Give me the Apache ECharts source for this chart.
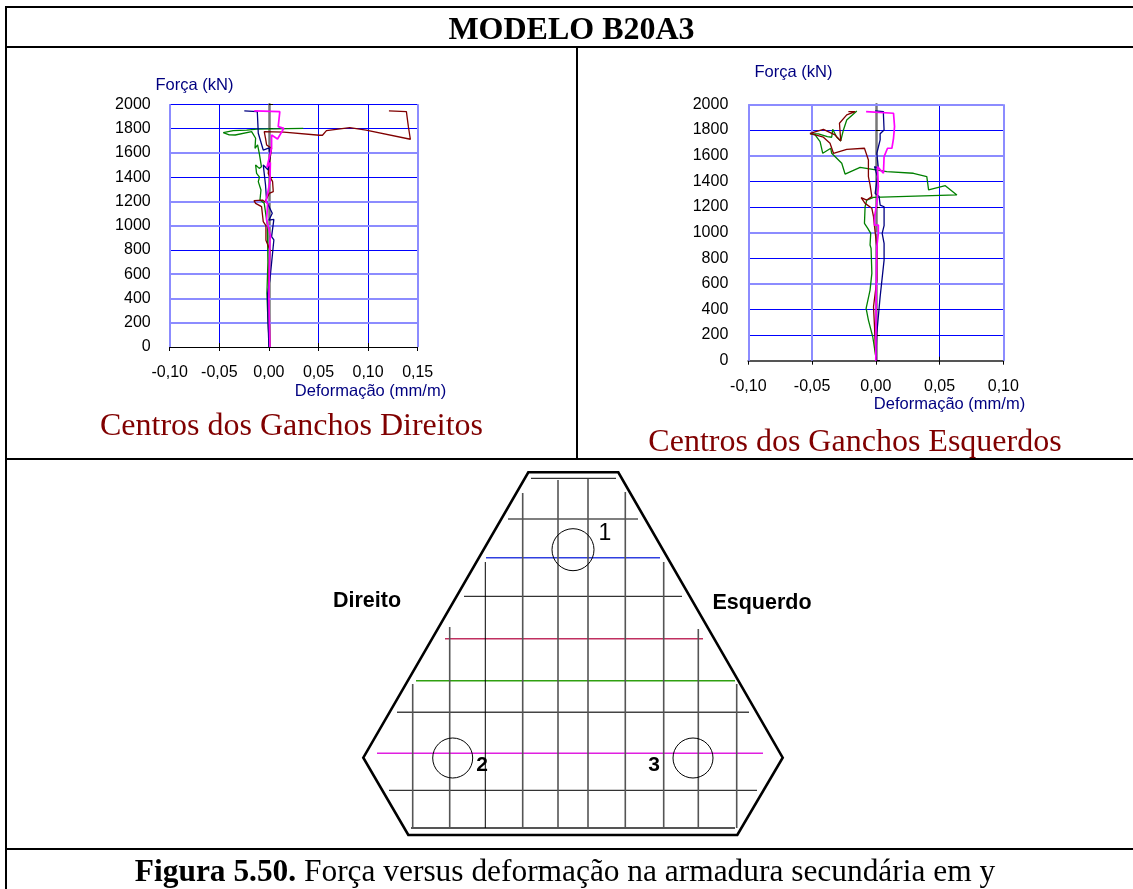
<!DOCTYPE html>
<html>
<head>
<meta charset="utf-8">
<title>MODELO B20A3</title>
<script src="https://cdn.jsdelivr.net/npm/echarts@6/dist/echarts.min.js"></script>
<style>
  html, body { margin: 0; padding: 0; background: #fff; }
  #chart { width: 1133px; height: 889px; }
</style>
</head>
<body>
<div id="chart"></div>
<script>
// Força x deformação: [deformação, força]
const direitoVerde = [[0.0005,0],[-0.001,222],[-0.002,442],[-0.001,700],[-0.0015,1000],[-0.0047,1184],[-0.009,1211],[-0.008,1294],[-0.0107,1363],[-0.0095,1400],[-0.0124,1431],[-0.0134,1500],[-0.0097,1472],[-0.0075,1485],[-0.0097,1596],[-0.0114,1665],[-0.014,1637],[-0.0134,1720],[-0.0174,1775],[-0.034,1747],[-0.04,1748],[-0.046,1766],[-0.036,1783],[-0.0225,1788],[-0.012,1796],[0.0346,1802]]
const direitoVermelho = [[0.001,0],[0.0005,200],[-0.0005,400],[0,600],[0.001,800],[-0.003,880],[-0.003,1000],[-0.0057,1033],[-0.0074,1157],[-0.0134,1184],[-0.015,1206],[-0.0064,1211],[-0.004,1195],[0.0003,1266],[0.0044,1280],[0.0037,1363],[-0.0007,1431],[0.001,1541],[0.0027,1637],[-0.0023,1665],[-0.0034,1720],[-0.0047,1775],[0.015,1770],[0.051,1745],[0.054,1745],[0.058,1783],[0.0815,1808],[0.098,1788],[0.1426,1712],[0.1406,1816],[0.1386,1940],[0.121,1945]]
const direitoAzul = [[0,0],[-0.001,250],[-0.0013,442],[0.001,552],[0.005,882],[0.0027,910],[0.005,1052],[0.0,1045],[0.0034,1102],[-0.0023,1198],[-0.0034,1335],[-0.0057,1500],[-0.0007,1459],[0.001,1569],[0.0003,1640],[-0.0057,1623],[-0.0107,1761],[-0.0117,1940],[-0.0248,1945]]
const direitoMagenta = [[0.001,0],[0,400],[0.001,880],[0.0017,910],[-0.0023,1047],[-0.0013,1180],[-0.003,1198],[0.001,1360],[0.0015,1520],[-0.002,1480],[0.0027,1640],[0.0027,1747],[0.0044,1747],[0.0087,1714],[0.015,1802],[0.0094,1816],[0.011,1940],[-0.0148,1945]]

const esquerdoVerde = [[0,31],[-0.0024,187],[-0.0058,317],[-0.0076,408],[-0.0045,551],[-0.0031,681],[-0.0037,876],[-0.0045,902],[-0.004,993],[-0.0063,1032],[-0.0089,1071],[-0.0084,1201],[-0.0092,1206],[-0.0071,1253],[-0.0018,1274],[0.0636,1293],[0.0545,1365],[0.0414,1332],[0.04,1436],[0.0295,1462],[0.0086,1475],[-0.0123,1508],[-0.0241,1456],[-0.0267,1540],[-0.0346,1618],[-0.0353,1657],[-0.0416,1618],[-0.0437,1709],[-0.0476,1761],[-0.0516,1769],[-0.045,1769],[-0.038,1748],[-0.0346,1743],[-0.0338,1805],[-0.0306,1743],[-0.0275,1714],[-0.0254,1800],[-0.0228,1878],[-0.0149,1948]]
const esquerdoVermelho = [[0,0],[-0.001,265],[-0.0018,421],[0.0008,629],[0.0008,889],[-0.001,1046],[-0.0018,1123],[-0.0031,1189],[-0.0084,1227],[-0.0115,1272],[-0.0071,1253],[-0.0031,1280],[-0.0045,1371],[-0.0058,1436],[-0.0058,1566],[-0.0089,1657],[-0.0228,1649],[-0.0332,1618],[-0.0359,1696],[-0.0411,1743],[-0.0516,1774],[-0.0411,1805],[-0.032,1761],[-0.0275,1714],[-0.0285,1852],[-0.0228,1917],[-0.0162,1943],[-0.0215,1943]]
const esquerdoAzul = [[0,0],[0.0008,213],[0.0034,499],[0.0065,785],[0.0065,915],[0.005,993],[0.0065,1053],[0.0065,1201],[0.0034,1214],[0.0026,1280],[-0.0005,1305],[0.0013,1436],[-0.001,1514],[0.002,1500],[0.0008,1618],[0.0034,1722],[0.0034,1770],[0.0065,1800],[0.006,1917],[0.006,1943],[-0.0005,1948]]
const esquerdoMagenta = [[0,0],[0.0003,525],[0.0008,889],[0.002,993],[0.002,1058],[-0.001,1058],[-0.001,1123],[0.0008,1227],[0.002,1357],[0.0013,1514],[0.006,1462],[0.0065,1592],[0.0092,1657],[0.0126,1657],[0.0139,1735],[0.0147,1826],[0.0139,1930],[-0.0076,1943]]

const forcaTicks = [0,200,400,600,800,1000,1200,1400,1600,1800,2000]
const defDireitoTicks = [-0.1,-0.05,0,0.05,0.1,0.15]
const defEsquerdoTicks = [-0.1,-0.05,0,0.05,0.1]
// linhas de grade que saem mais largas e claras na figura
const clarasYDireito = [200,400,600,1000,1200,1600]
const clarasXDireito = [-0.1,0.15]
const clarasYEsquerdo = [600,1000,1600,2000]
const clarasXEsquerdo = [-0.1,-0.05,0.1]

const AZUL = '#000080'
const VERDE = '#008000'
const VERMELHO = '#800000'
const MAGENTA = '#ff00ff'
const SERIF = '"Liberation Serif", serif'
const SANS = '"Liberation Sans", sans-serif'

const chart = echarts.init(document.getElementById('chart'))

function cores(ticks, claras) {
  return ticks.map(t => claras.includes(t) ? 'transparent' : '#0000ff')
}

function serie(nome, data, color, idx) {
  return {
    name: nome,
    type: 'line',
    data: data,
    xAxisIndex: idx * 2,
    yAxisIndex: idx * 3,
    showSymbol: false,
    symbol: 'none',
    silent: true,
    z: 4,
    lineStyle: { color: color, width: color === MAGENTA ? 1.7 : 1.3 },
  }
}

// grade clara: uma serie vazia só com markLine
function gradeClara(idx, claraX, claraY) {
  return {
    type: 'line',
    data: [],
    xAxisIndex: idx * 2,
    yAxisIndex: idx * 3,
    silent: true,
    markLine: {
      silent: true,
      symbol: 'none',
      z: 1,
      label: { show: false },
      lineStyle: { type: 'solid', color: '#8c8cff', width: 2 },
      data: [...claraX.map(v => ({ xAxis: v })), ...claraY.map(v => ({ yAxis: v }))],
    },
  }
}

function eixoX(idx, ticks, claras, position) {
  const base = position === 'bottom'
  return {
    gridIndex: idx,
    type: 'value',
    position: position,
    min: ticks[0],
    max: ticks[ticks.length - 1],
    interval: 0.05,
    axisLine: { show: base, lineStyle: { color: idx === 0 ? '#000' : '#555', width: idx === 0 ? 1 : 2 } },
    axisTick: { show: true, length: 4, lineStyle: { color: '#000' } },
    axisLabel: {
      show: base,
      margin: 18,
      color: '#000',
      fontFamily: SANS,
      fontSize: 16,
      formatter: v => v.toFixed(2).replace('.', ','),
    },
    splitLine: { show: base, lineStyle: { color: cores(ticks, claras), width: 1 } },
  }
}

function eixoY(idx, claras) {
  const limites = { min: forcaTicks[0], max: forcaTicks[forcaTicks.length - 1], interval: 200 }
  return [
    {
      gridIndex: idx,
      type: 'value',
      position: 'left',
      ...limites,
      axisLine: { show: false, onZero: false },
      axisTick: { show: false },
      axisLabel: { margin: idx === 0 ? 19 : 20, padding: [3, 0, 0, 0], color: '#000', fontFamily: SANS, fontSize: 16, formatter: v => String(v) },
      splitLine: { show: true, lineStyle: { color: cores(forcaTicks, claras) } },
    },
    {
      gridIndex: idx,
      type: 'value',
      position: 'right',
      ...limites,
      axisLine: { show: true, onZero: true, lineStyle: { color: '#777', width: 2.5 } },
      axisTick: { show: true, length: 4, lineStyle: { color: '#000' } },
      axisLabel: { show: false },
      splitLine: { show: false },
    },
    {
      gridIndex: idx,
      type: 'value',
      position: 'right',
      ...limites,
      axisLine: { show: false, onZero: true },
      axisTick: { show: true, length: 4, lineStyle: { color: '#000' } },
      axisLabel: { show: false },
      splitLine: { show: false },
    },
  ]
}

function linha(x1, y1, x2, y2, color, width) {
  return { type: 'line', silent: true, shape: { x1, y1, x2, y2 }, style: { stroke: color, lineWidth: width } }
}

function texto(x, y, text, font, color, align) {
  return { type: 'text', silent: true, x, y, style: { text, font, fill: color || '#000', align: align || 'center', verticalAlign: 'middle' } }
}

// moldura da tabela (a direita e embaixo a figura está cortada)
const moldura = [
  linha(6, 7, 1133, 7, '#000', 2),
  linha(6, 47, 1133, 47, '#000', 2),
  linha(6, 459, 1133, 459, '#000', 2),
  linha(6, 849, 1133, 849, '#000', 2),
  linha(6, 6, 6, 889, '#000', 2),
  linha(577, 47, 577, 459, '#000', 2),
]

const textos = [
  texto(571.5, 31, 'MODELO B20A3', 'bold 32px ' + SERIF),
  texto(194.5, 85, 'Força (kN)', '16.5px ' + SANS, AZUL),
  texto(370.5, 391, 'Deformação (mm/m)', '16.5px ' + SANS, AZUL),
  texto(793.5, 72, 'Força (kN)', '16.5px ' + SANS, AZUL),
  texto(949.5, 404, 'Deformação (mm/m)', '16.5px ' + SANS, AZUL),
  texto(291.5, 427, 'Centros dos Ganchos Direitos', '32px ' + SERIF, VERMELHO),
  texto(855, 443, 'Centros dos Ganchos Esquerdos', '32px ' + SERIF, VERMELHO),
  texto(367, 601, 'Direito', 'bold 21.5px ' + SANS),
  texto(762, 603, 'Esquerdo', 'bold 21.5px ' + SANS),
  texto(605, 534, '1', '23px ' + SANS),
  texto(482, 765, '2', 'bold 21px ' + SANS),
  texto(654, 765, '3', 'bold 21px ' + SANS),
  {
    type: 'text', silent: true, x: 565, y: 873,
    style: {
      text: '{b|Figura 5.50.} Força versus deformação na armadura secundária em y',
      font: '31.4px ' + SERIF, fill: '#000', align: 'center', verticalAlign: 'middle',
      rich: { b: { font: 'bold 31.4px ' + SERIF, fill: '#000' } },
    },
  },
]

// esquema do bloco: contorno, barras e estacas
const contorno = {
  type: 'polygon', silent: true,
  shape: { points: [[528.3,472.3],[618.3,472.3],[782.7,757.7],[737.3,835],[408.3,835],[363.3,757.7]] },
  style: { fill: 'none', stroke: '#000', lineWidth: 2.6 },
}
const barrasH = [
  [531,616,478.3,'#000',1],[508,638,519,'#555',1.5],[486,660,557.7,'#3040e0',1.5],[464,682,596.3,'#000',1],
  [445,703,638.7,'#c03060',1.5],[416,735,680.7,'#30a010',1.5],[397,749,712.3,'#444',1.5],[377,763,753.3,'#e020e0',1.5],
  [389,757,790.3,'#000',1],[411,735,828,'#555',2],
].map(b => linha(b[0], b[2], b[1], b[2], b[3], b[4]))
const barrasV = [
  [412.7,684,'#555'],[449.7,627,'#555'],[485.3,562,'#000'],[522.7,493,'#555'],[558,480,'#555'],
  [588,479,'#555'],[625.3,492,'#555'],[663.7,562,'#555'],[698.3,629,'#555'],[736.7,684,'#555'],
].map(b => linha(b[0], b[1], b[0], 828, b[2], b[2] === '#000' ? 1 : 1.6))
const estacas = [[573,549.7,21],[452.7,758,20],[693,758,20]].map(c => ({
  type: 'circle', silent: true,
  shape: { cx: c[0], cy: c[1], r: c[2] },
  style: { fill: 'none', stroke: '#000', lineWidth: 1 },
}))

chart.setOption({
  animation: false,
  backgroundColor: '#fff',
  grid: [
    { left: 169.7, top: 104.3, width: 248, height: 242.7 },
    { left: 748.3, top: 104.3, width: 255, height: 256.4 },
  ],
  xAxis: [
    eixoX(0, defDireitoTicks, clarasXDireito, 'bottom'), eixoX(0, defDireitoTicks, clarasXDireito, 'top'),
    eixoX(1, defEsquerdoTicks, clarasXEsquerdo, 'bottom'), eixoX(1, defEsquerdoTicks, clarasXEsquerdo, 'top'),
  ],
  yAxis: [...eixoY(0, clarasYDireito), ...eixoY(1, clarasYEsquerdo)],
  series: [
    gradeClara(0, clarasXDireito, clarasYDireito),
    serie('Verde', direitoVerde, VERDE, 0),
    serie('Vermelho', direitoVermelho, VERMELHO, 0),
    serie('Azul', direitoAzul, AZUL, 0),
    serie('Magenta', direitoMagenta, MAGENTA, 0),
    gradeClara(1, clarasXEsquerdo, clarasYEsquerdo),
    serie('Verde', esquerdoVerde, VERDE, 1),
    serie('Vermelho', esquerdoVermelho, VERMELHO, 1),
    serie('Azul', esquerdoAzul, AZUL, 1),
    serie('Magenta', esquerdoMagenta, MAGENTA, 1),
  ],
  graphic: { elements: [...moldura, ...barrasH, ...barrasV, ...estacas, contorno, ...textos] },
})
</script>
</body>
</html>
